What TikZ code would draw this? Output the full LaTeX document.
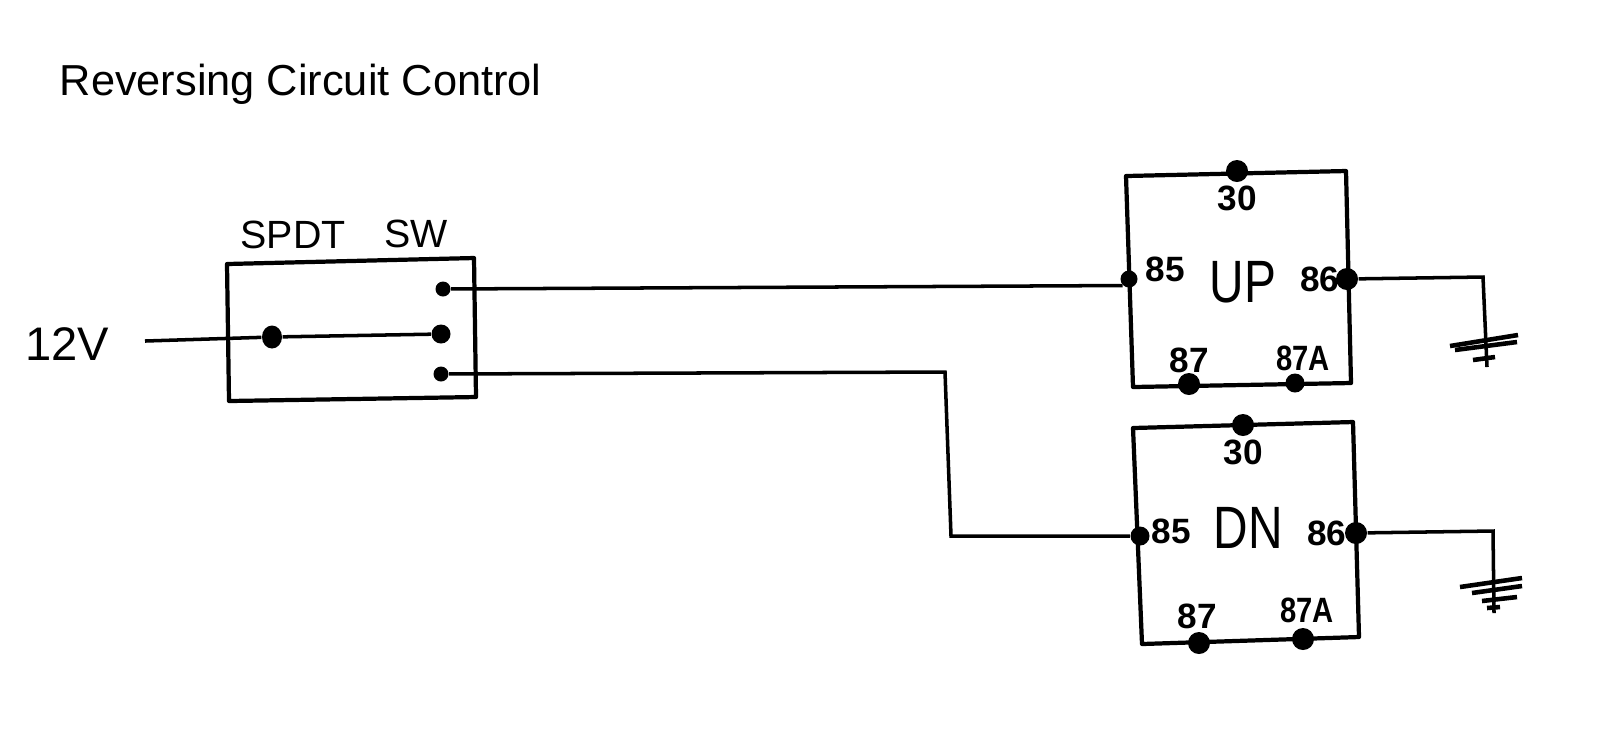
\documentclass[tikz,border=0pt]{standalone}
\usepackage{fontspec}
\setmainfont{Liberation Sans}
\usetikzlibrary{shapes.geometric}

\begin{document}
\begin{tikzpicture}[x=0.01cm, y=-0.01cm, align=center, node distance=2.7mm,
	wire/.style = {line width=1pt},
	earth/.style = {line width=1.3pt},
	box/.style = {line width=1.2pt, line join=round},
	dot/.style = {draw=none, circle, fill=black, inner sep=0pt, minimum size=1.9mm},
	bigdot/.style = {dot, minimum size=2.2mm},
	num/.style = {inner sep=0pt, font=\bfseries\fontsize{10}{10}\selectfont},
	hand/.style = {inner sep=0pt, font=\fontsize{11.2}{12}\selectfont},
	relayname/.style = {inner sep=0pt, font=\fontsize{17}{18}\selectfont}]
	\useasboundingbox (0,0) rectangle (1600,747);
	\node[inner sep=0pt, anchor=base west, font=\fontsize{12.33}{14}\selectfont] (title) at (59,95) {Reversing Circuit Control};

	\coordinate (swA) at (227,264);
	\coordinate (swB) at (474,258);
	\coordinate (swC) at (476,397);
	\coordinate (swD) at (229,401);
	\draw[box] (swA) -- (swB) -- (swC) -- (swD) -- cycle;
	\node[hand] (spdt) at (293,235) {SPDT};
	\node[hand] (swname) at (416,234) {SW};
	\node[hand, font=\fontsize{13.4}{14}\selectfont] (volt) at (67,344) {12V};
	\coordinate (feed) at (145,341);
	\node[draw=none, ellipse, fill=black, inner sep=0pt, minimum width=2mm, minimum height=2.3mm] (common) at (272,337) {};
	\node[dot, minimum size=1.5mm] (swup) at (443,289) {};
	\node[dot] (swmid) at (441,334) {};
	\node[dot, minimum size=1.5mm] (swdn) at (441,374) {};

	\coordinate (upA) at (1126,176);
	\coordinate (upB) at (1346,171);
	\coordinate (upC) at (1351,383);
	\coordinate (upD) at (1133,387);
	\draw[box] (upA) -- (upB) -- (upC) -- (upD) -- cycle;
	\node[bigdot] (up30) at (1237,171) {};
	\node[dot, minimum size=1.7mm] (up85) at (1129,279) {};
	\node[bigdot] (up86) at (1347,279) {};
	\node[bigdot] (up87) at (1189,384) {};
	\node[dot] (up87a) at (1295,383) {};
	\node[num] (upl30) [below of = up30] {30};
	\node[num, xshift=0.6mm, yshift=1mm] (upl85) [right of = up85, node distance=3mm] {85};
	\node[num] (upl86) [left of = up86] {86};
	\node[num] (upl87) [above of = up87, node distance=2.4mm] {87};
	\node[num, xshift=0.8mm] (upl87a) [above of = up87a, node distance=2.5mm] {\scalebox{.83}[1]{87A}};
	\node[relayname] (upname) at (1243,282) {\scalebox{.8}[1]{UP}};

	\coordinate (dnA) at (1133,428);
	\coordinate (dnB) at (1353,422);
	\coordinate (dnC) at (1359,637);
	\coordinate (dnD) at (1142,644);
	\draw[box] (dnA) -- (dnB) -- (dnC) -- (dnD) -- cycle;
	\node[bigdot] (dn30) at (1243,425) {};
	\node[dot] (dn85) at (1140,536) {};
	\node[bigdot] (dn86) at (1356,533) {};
	\node[bigdot] (dn87) at (1199,643) {};
	\node[bigdot] (dn87a) at (1303,639) {};
	\node[num] (dnl30) [below of = dn30] {30};
	\node[num, yshift=0.5mm] (dnl85) [right of = dn85, node distance=3.1mm] {85};
	\node[num] (dnl86) [left of = dn86, node distance=2.9mm] {86};
	\node[num, xshift=-0.2mm] (dnl87) [above of = dn87] {87};
	\node[num, xshift=0.4mm] (dnl87a) [above of = dn87a, node distance=2.9mm] {\scalebox{.83}[1]{87A}};
	\node[relayname] (dnname) at (1248,528) {\scalebox{.8}[1]{DN}};

	\coordinate (upcorner) at (1483,277);
	\coordinate (upgnd) at (1487,367);
	\coordinate (dncornerA) at (945,372);
	\coordinate (dncornerB) at (951,536);
	\coordinate (dncorner) at (1493,531);
	\coordinate (dngnd) at (1494,613);

	\draw[wire] (feed) -- (common);
	\draw[wire] (common) -- (swmid);
	\draw[wire] (swup) -- (up85.225);
	\draw[wire] (swdn) -- (dncornerA) -- (dncornerB) -- (dn85);
	\draw[wire] (up86) -- (upcorner) -- (upgnd);
	\draw[wire] (dn86) -- (dncorner) -- (dngnd);

	\draw[earth] (1450,346) -- (1518,335);
	\draw[earth] (1455,350) -- (1517,342);
	\draw[earth] (1473,360) -- (1495,357);
	\draw[earth] (1460,587) -- (1522,578);
	\draw[earth] (1472,593) -- (1522,586);
	\draw[earth] (1482,601) -- (1517,597);
	\draw[earth] (1487,608) -- (1500,607);
\end{tikzpicture}
\end{document}
